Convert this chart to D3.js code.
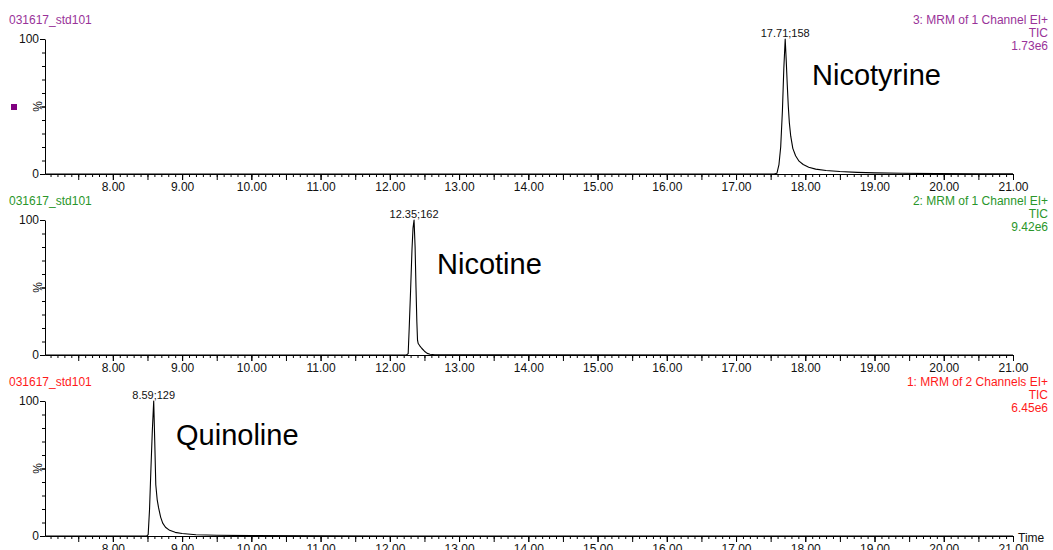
<!DOCTYPE html>
<html>
<head>
<meta charset="utf-8">
<script src="https://cdn.jsdelivr.net/npm/d3@7"></script>
<style>
    body { margin: 0; background: #fff; }
    svg { font-family: "Liberation Sans", Arial, sans-serif; }
    .tick text { font-size: 12px; fill: #111; }
    .domain, .tick line { stroke: #000; }
</style>
</head>
<body>
<svg id="chart" width="1053" height="550"></svg>
<script>

// ===== data (time in min, intensity in %)
var sampleName = "031617_std101";
var channelNames = ["3: MRM of 1 Channel EI+", "2: MRM of 1 Channel EI+", "1: MRM of 2 Channels EI+"];
var channelScales = ["1.73e6", "9.42e6", "6.45e6"];
var compoundNames = ["Nicotyrine", "Nicotine", "Quinoline"];
var peakLabels = ["17.71;158", "12.35;162", "8.59;129"];
var peakTimes = [17.71, 12.35, 8.59];
var xTickLabels = [8, 9, 10, 11, 12, 13, 14, 15, 16, 17, 18, 19, 20, 21];

var nicotyrineTime = [7.02, 17.55, 17.59, 17.62, 17.645, 17.67, 17.69, 17.71, 17.725, 17.74, 17.755, 17.77, 17.79, 17.82, 17.86, 17.91, 17.97, 18.05, 18.15, 18.3, 18.5, 18.75, 19.0, 19.4, 19.9, 20.5, 21.0];
var nicotyrineValue = [0, 0, 0.5, 7, 20, 47, 78, 100, 84, 66, 50, 38, 28, 19, 13.5, 9.5, 7, 5, 3.6, 2.6, 1.8, 1.2, 0.8, 0.5, 0.3, 0.2, 0.1];

var nicotineTime = [7.02, 12.24, 12.265, 12.28, 12.3, 12.32, 12.335, 12.35, 12.365, 12.378, 12.39, 12.4, 12.41, 12.43, 12.46, 12.5, 12.54, 12.58, 12.65, 12.8, 21.0];
var nicotineValue = [0, 0, 1, 20, 48, 78, 94, 100, 80, 50, 25, 11, 8.5, 7, 5, 2.8, 1.2, 0.5, 0.2, 0.1, 0];

var quinolineTime = [7.02, 8.49, 8.51, 8.53, 8.55, 8.57, 8.59, 8.605, 8.62, 8.64, 8.66, 8.69, 8.72, 8.76, 8.82, 8.9, 9.0, 9.2, 9.5, 10.0, 11.0, 12.0, 21.0];
var quinolineValue = [0, 0, 1, 20, 50, 78, 100, 70, 38, 27, 21, 14, 9.5, 6.5, 4.2, 2.7, 1.8, 0.9, 0.5, 0.3, 0.1, 0, 0];

var panelColors = ["#993399", "#2a962a", "#ff1a1a"];
// ===== end of data


var svg = d3.select("#chart");

var margin = {left: 45, right: 40};
var panelTop = [39, 220, 401];
var panelHeight = 135;

var xScale = d3.scaleLinear().domain([7.02, 21.0]).range([margin.left, 1013]);

var traces = [
    d3.zip(nicotyrineTime, nicotyrineValue),
    d3.zip(nicotineTime, nicotineValue),
    d3.zip(quinolineTime, quinolineValue)
];

// tick positions
var minorTicks = d3.range(71, 211).map(function (i) { return i / 10; });
var halfTicks = d3.range(15, 43).map(function (i) { return i / 2; });
var yMinorTicks = d3.range(0, 101, 10);

function drawPanel(p) {
    var top = panelTop[p];
    var bottom = top + panelHeight;
    var color = panelColors[p];

    var yScale = d3.scaleLinear().domain([0, 100]).range([bottom, top]);

    var panel = svg.append("g").attr("class", "panel" + p);

    // header texts
    panel.append("text")
        .attr("x", 9)
        .attr("y", top - 15)
        .style("font-size", "12px")
        .style("fill", color)
        .text(sampleName);

    var right = panel.append("text")
        .attr("text-anchor", "end")
        .style("font-size", "12px")
        .style("fill", color);
    [channelNames[p], "TIC", channelScales[p]].forEach(function (t, i) {
        right.append("tspan")
            .attr("x", 1048)
            .attr("y", top - 15 + i * 13)
            .text(t);
    });

    // x axis: minor ticks, half ticks, labelled ticks
    panel.append("g")
        .attr("transform", "translate(0," + bottom + ")")
        .call(d3.axisBottom(xScale).tickValues(minorTicks).tickSize(3).tickFormat("").tickSizeOuter(0))
        .select(".domain").remove();
    panel.append("g")
        .attr("transform", "translate(0," + bottom + ")")
        .call(d3.axisBottom(xScale).tickValues(halfTicks).tickSize(6).tickFormat("").tickSizeOuter(0))
        .select(".domain").remove();
    var xAxisG = panel.append("g")
        .attr("transform", "translate(0," + bottom + ")")
        .call(d3.axisBottom(xScale)
            .tickValues(xTickLabels)
            .tickSize(6)
            .tickSizeOuter(0)
            .tickFormat(d3.format(".2f")));
    xAxisG.selectAll("text").attr("y", 8.5);

    // y axis
    panel.append("g")
        .attr("transform", "translate(" + margin.left + ",0)")
        .call(d3.axisLeft(yScale).tickValues(yMinorTicks).tickSize(3).tickFormat("").tickSizeOuter(0))
        .select(".domain").remove();
    panel.append("g")
        .attr("transform", "translate(" + margin.left + ",0)")
        .call(d3.axisLeft(yScale)
            .tickValues([0, 50, 100])
            .tickSize(5)
            .tickPadding(1)
            .tickSizeOuter(0)
            .tickFormat(function (d) { return d === 50 ? "" : d; }));

    panel.append("text")
        .attr("transform", "translate(" + 42 + "," + yScale(50) + ") rotate(-90)")
        .attr("text-anchor", "middle")
        .style("font-size", "12px")
        .style("fill", "#111")
        .text("%");

    // the trace
    var line = d3.line()
        .x(function (d) { return xScale(d[0]); })
        .y(function (d) { return yScale(d[1]); });

    panel.append("path")
        .datum(traces[p])
        .attr("d", line)
        .attr("fill", "none")
        .attr("stroke", "#000")
        .attr("stroke-width", 1.1)
        .attr("stroke-linejoin", "round");

    // peak annotation
    panel.append("text")
        .attr("x", xScale(peakTimes[p]))
        .attr("y", yScale(100) - 2.5)
        .attr("text-anchor", "middle")
        .style("font-size", "11px")
        .style("fill", "#111")
        .text(peakLabels[p]);
}

for (var i = 0; i < 3; i++) {
    drawPanel(i);
}

// compound names
var namePos = [[812, 85], [437, 274], [176, 445]];
svg.selectAll(".compound")
    .data(compoundNames)
    .enter()
    .append("text")
    .attr("class", "compound")
    .attr("x", function (d, i) { return namePos[i][0]; })
    .attr("y", function (d, i) { return namePos[i][1]; })
    .style("font-size", "29px")
    .style("fill", "#000")
    .text(function (d) { return d; });

// little marker square on the first trace
svg.append("rect")
    .attr("x", 11)
    .attr("y", 104)
    .attr("width", 6)
    .attr("height", 6)
    .style("fill", "#800080");

svg.append("text")
    .attr("x", 1018)
    .attr("y", panelTop[2] + panelHeight + 6)
    .style("font-size", "12px")
    .style("fill", "#111")
    .text("Time");

</script>
</body>
</html>
